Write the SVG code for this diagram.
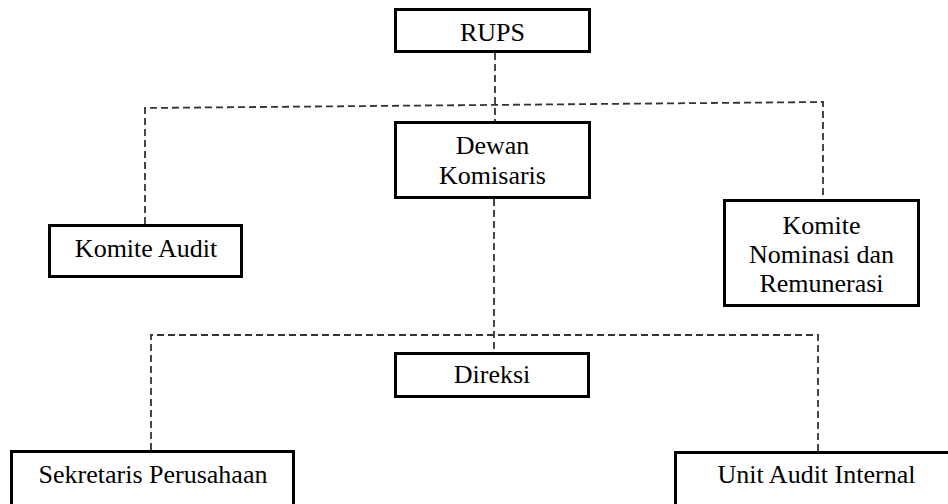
<svg xmlns="http://www.w3.org/2000/svg" width="948" height="504" viewBox="0 0 948 504">
<style>
.box{fill:#fff;stroke:#000;stroke-width:3}
.lbl{font-family:"Liberation Serif","Times New Roman","DejaVu Serif",serif;font-size:26px;fill:#000;text-anchor:middle}
.dash{fill:none;stroke:#333;stroke-width:1.8;stroke-dasharray:7 4}
</style>
<rect width="948" height="504" fill="#fff"/>
<g id="connectors">
<path class="dash" d="M495,53 V121"/>
<path class="dash" d="M145,224 V108 L823,102 V199"/>
<path class="dash" d="M494,199 V352"/>
<path class="dash" d="M151,450 V335 H818 V451"/>
</g>
<g id="rups"><rect class="box" x="395.5" y="9.5" width="194" height="42"/><text class="lbl" x="492.5" y="41">RUPS</text></g>
<g id="dewan"><rect class="box" x="395.5" y="122.5" width="194" height="75"/><text class="lbl" x="492.5" y="154">Dewan</text><text class="lbl" x="492.5" y="184">Komisaris</text></g>
<g id="komite-audit"><rect class="box" x="49.5" y="225.5" width="192" height="51"/><text class="lbl" x="146" y="257">Komite Audit</text></g>
<g id="komite-nominasi"><rect class="box" x="724.5" y="200.5" width="194" height="105"/><text class="lbl" x="821.5" y="234">Komite</text><text class="lbl" x="821.5" y="263">Nominasi dan</text><text class="lbl" x="821.5" y="292">Remunerasi</text></g>
<g id="direksi"><rect class="box" x="395.5" y="353.5" width="193" height="43"/><text class="lbl" x="492" y="383">Direksi</text></g>
<g id="sekretaris"><rect class="box" x="11.5" y="451.5" width="282" height="60"/><text class="lbl" x="153" y="483">Sekretaris Perusahaan</text></g>
<g id="unit-audit"><rect class="box" x="675.5" y="452.5" width="290" height="60"/><text class="lbl" x="816.5" y="483">Unit Audit Internal</text></g>
</svg>
